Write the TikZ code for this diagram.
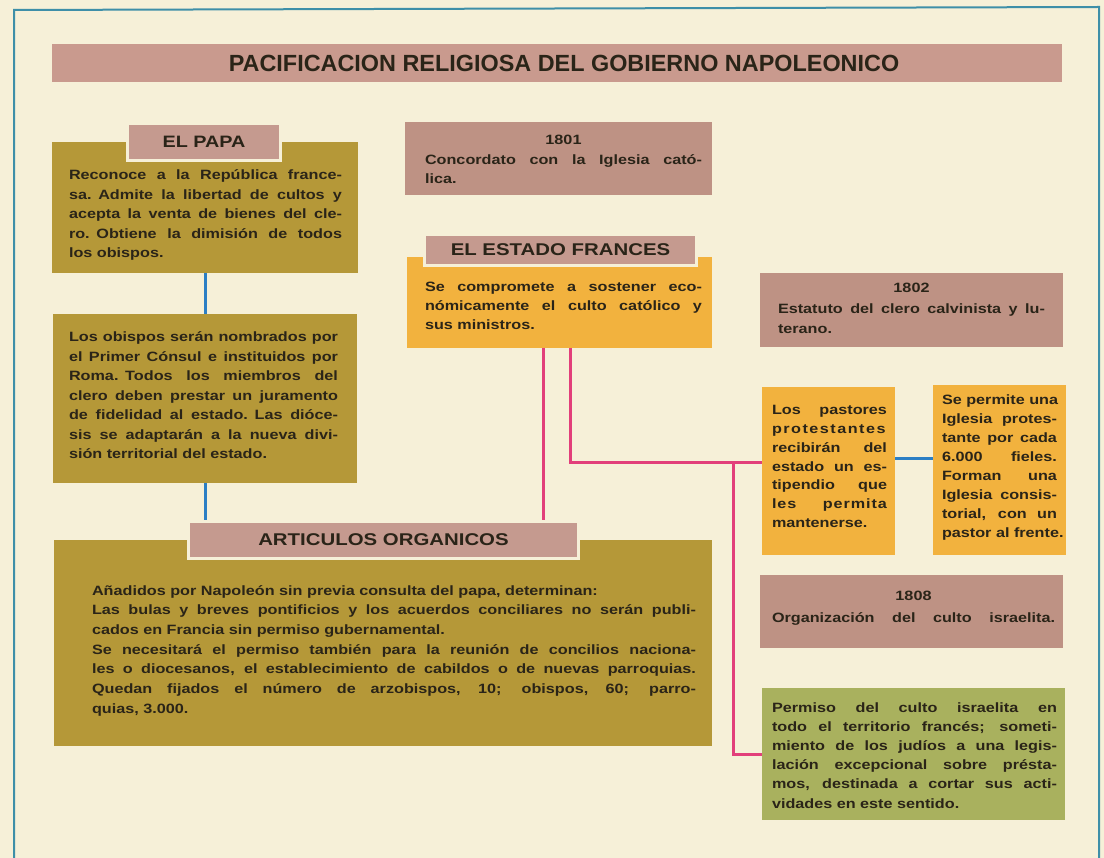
\documentclass[tikz,border=0pt]{standalone}
\usepackage{fontspec}
\setmainfont{Liberation Sans}
\newfontfamily\bx[FakeStretch=1.2]{Liberation Sans Bold}
\newfontfamily\tf[FakeStretch=1.0]{Liberation Sans Bold}
\definecolor{bg}{HTML}{F6F0D8}
\definecolor{framec}{HTML}{3E8FA8}
\definecolor{titlec}{HTML}{C99A8E}
\definecolor{hdr}{HTML}{C59A8F}
\definecolor{mauve}{HTML}{BE9284}
\definecolor{olive}{HTML}{B59838}
\definecolor{orangec}{HTML}{F2B23E}
\definecolor{greenc}{HTML}{A9B15E}
\definecolor{ink}{HTML}{2A2418}
\definecolor{bluel}{HTML}{2C7FC4}
\definecolor{pinkl}{HTML}{E23F7A}
\newcommand\J[1]{\hbox to\hsize{\spaceskip=\fontdimen2\font plus 1fil\relax #1}}
\newcommand\C[1]{\hbox to\hsize{\hfil #1\hfil}}
\newcommand\R{\rule{0pt}{14pt}}
\newcommand\LSp[2]{\hbox to\hsize{\addfontfeature{LetterSpace=#1}#2\hfil}}
\tikzset{
  box/.style={anchor=north west, inner sep=0pt, outer sep=0pt, draw=none},
  hdrbox/.style={fill=hdr, draw=bg, line width=3pt, inner sep=0pt, text=ink,
     font=\bx\fontsize{16.5}{18}\selectfont},
  txt/.style={anchor=north west, inner sep=0pt, outer sep=0pt, text=ink,
     font=\bx\fontsize{13.5}{19.5}\selectfont},
  blueline/.style={draw=bluel, line width=3pt},
  pinkline/.style={draw=pinkl, line width=3pt},
}
\begin{document}
\begin{tikzpicture}[x=1pt,y=-1pt]
\fill[bg] (0,0) rectangle (1104,858);
\useasboundingbox (0,0) rectangle (1104,858);
% frame
\draw[framec, line width=2pt] (14,858) -- (14,10) -- (1099,7) -- (1099,858);

% title
\node[box, fill=titlec, minimum width=1010pt, minimum height=38pt] (title) at (52,44) {};
\node[text=ink, font=\tf\fontsize{23.4}{26}\selectfont, inner sep=0pt] (titletxt) at (564,63.5) {PACIFICACION RELIGIOSA DEL GOBIERNO NAPOLEONICO};

% boxes (no text)
\node[box, fill=olive, minimum width=306pt, minimum height=131pt] (papaB) at (52,142) {};
\node[box, fill=olive, minimum width=304pt, minimum height=169pt] (obis) at (53,314) {};
\node[box, fill=olive, minimum width=658pt, minimum height=206pt] (artB) at (54,540) {};
\node[box, fill=mauve, minimum width=307pt, minimum height=73pt] (c1801) at (405,122) {};
\node[box, fill=orangec, minimum width=305pt, minimum height=91pt] (estB) at (407,257) {};
\node[box, fill=mauve, minimum width=303pt, minimum height=74pt] (c1802) at (760,273) {};
\node[box, fill=orangec, minimum width=133pt, minimum height=168pt] (past) at (762,387) {};
\node[box, fill=orangec, minimum width=133pt, minimum height=170pt] (permi) at (933,385) {};
\node[box, fill=mauve, minimum width=303pt, minimum height=73pt] (c1808) at (760,575) {};
\node[box, fill=greenc, minimum width=303pt, minimum height=132pt] (perm) at (762,688) {};

% connectors
\coordinate (j) at (733,463);
\draw[blueline] (papaB.south) -- (obis.north);
\draw[pinkline] ([xshift=10.5pt]estB.south) |- (j) -- (j -| past.west);
\draw[pinkline] (j) |- (perm.west);
\draw[blueline] ([yshift=12pt]past.east) -- ([yshift=12pt]past.east -| permi.west);

% headers
\node[hdrbox, anchor=north west, minimum width=153pt, minimum height=37pt] (papaH) at (126,122) {EL PAPA};
\node[hdrbox, anchor=north west, minimum width=272pt, minimum height=31pt, font=\bx\fontsize{17}{18}\selectfont] (estH) at (423,233) {EL ESTADO FRANCES};
\node[hdrbox, anchor=north west, minimum width=390pt, minimum height=37pt, font=\bx\fontsize{17}{18}\selectfont] (artH) at (187,520) {ARTICULOS ORGANICOS};
\draw[blueline] (obis.south) -- (obis.south |- artH.north);
\draw[pinkline] ([xshift=-16.5pt]estB.south) -- ([xshift=-16.5pt]estB.south |- artH.north);

% texts
\node[txt, text width=273pt] (papaT) at (69,166) {%
\J{\R Reconoce a la República france-}
\J{sa. Admite la libertad de cultos y}
\J{acepta la venta de bienes del cle-}
\J{ro. Obtiene la dimisión de todos}
los obispos.};

\node[txt, text width=269pt] (obisT) at (69,328) {%
\J{\R Los obispos serán nombrados por}
\J{el Primer Cónsul e instituidos por}
\J{Roma. Todos los miembros del}
\J{clero deben prestar un juramento}
\J{de fidelidad al estado. Las dióce-}
\J{sis se adaptarán a la nueva divi-}
sión territorial del estado.};

\node[txt, text width=277pt] (t1801) at (425,131) {%
\C{\R 1801}
\J{Concordato con la Iglesia cató-}
lica.};

\node[txt, text width=277pt, font=\bx\fontsize{13.5}{19}\selectfont] (estT) at (425,278) {%
\J{\R Se compromete a sostener eco-}
\J{nómicamente el culto católico y}
sus ministros.};

\node[txt, text width=267pt, font=\bx\fontsize{13.5}{20.5}\selectfont] (t1802) at (778,279) {%
\C{\R 1802}
\J{Estatuto del clero calvinista y lu-}
terano.};

\node[txt, text width=115pt, font=\bx\fontsize{13.5}{18.7}\selectfont] (pastT) at (772,401) {%
\J{\R Los pastores}
\LSp{11}{protestantes}
\J{recibirán del}
\J{estado un es-}
\J{tipendio que}
\J{\addfontfeature{LetterSpace=7}les permita}
mantenerse.};

\node[txt, text width=115pt, font=\bx\fontsize{13.5}{18.9}\selectfont] (permiT) at (942,391) {%
\J{\R Se permite una}
\J{Iglesia protes-}
\J{tante por cada}
\J{6.000 fieles.}
\J{Forman una}
\J{Iglesia consis-}
\J{torial, con un}
\mbox{pastor al frente.}};

\node[txt, text width=283pt, font=\bx\fontsize{13.5}{22}\selectfont] (t1808) at (772,586) {%
\C{\R 1808}
\J{Organización del culto israelita.}};

\node[txt, text width=285pt, font=\bx\fontsize{13.5}{19.2}\selectfont] (permT) at (772,698) {%
\J{\R Permiso del culto israelita en}
\J{todo el territorio francés; someti-}
\J{miento de los judíos a una legis-}
\J{lación excepcional sobre présta-}
\J{mos, destinada a cortar sus acti-}
vidades en este sentido.};

\node[txt, text width=604pt, font=\bx\fontsize{13.5}{19.7}\selectfont] (artT) at (92,581) {%
\R Añadidos por Napoleón sin previa consulta del papa, determinan:\par
\J{Las bulas y breves pontificios y los acuerdos conciliares no serán publi-}
cados en Francia sin permiso gubernamental.\par
\J{Se necesitará el permiso también para la reunión de concilios naciona-}
\J{les o diocesanos, el establecimiento de cabildos o de nuevas parroquias.}
\J{Quedan fijados el número de arzobispos, 10; obispos, 60; parro-}
quias, 3.000.};
\end{tikzpicture}
\end{document}
